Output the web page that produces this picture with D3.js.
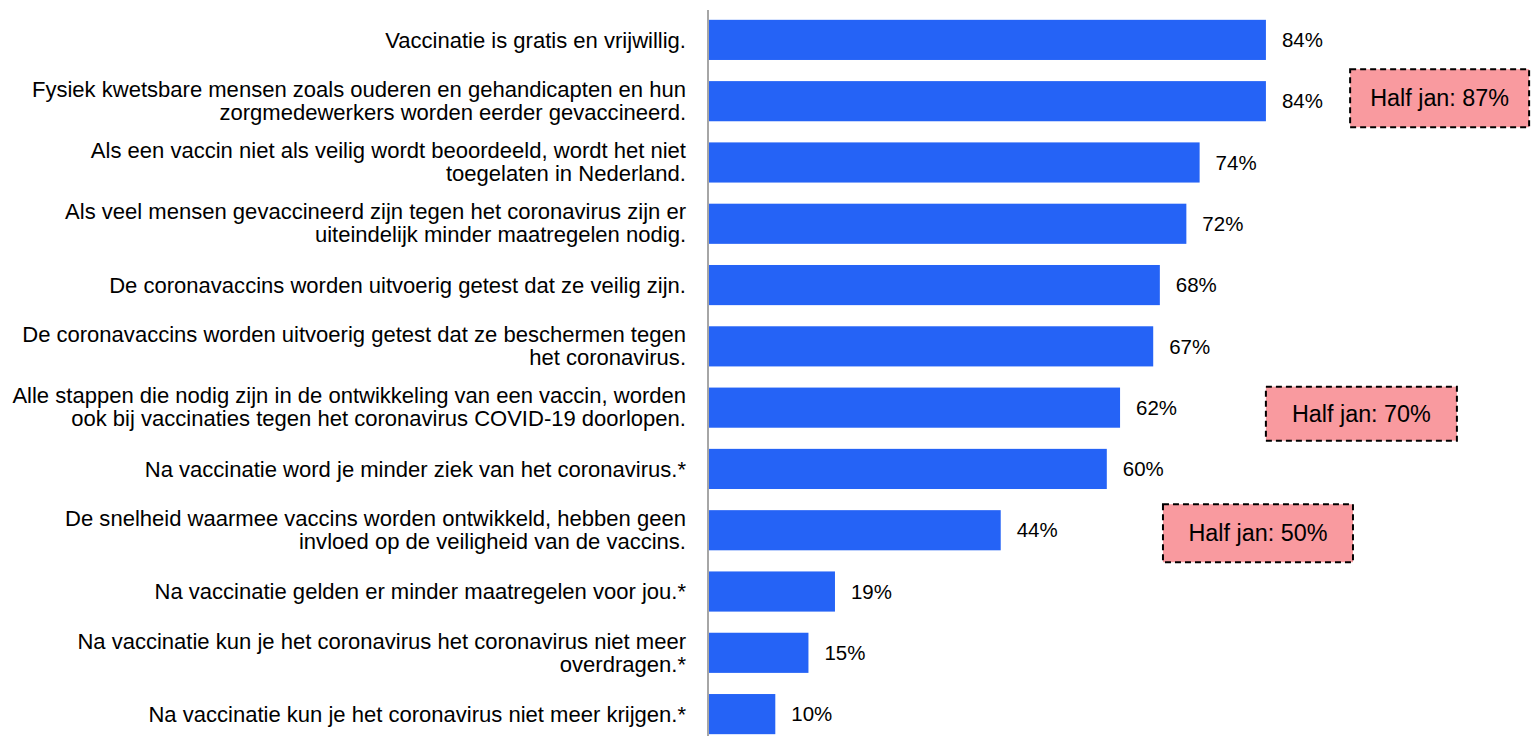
<!DOCTYPE html>
<html><head><meta charset="utf-8">
<script src="https://cdn.jsdelivr.net/npm/d3@7"></script>
<style>html,body{margin:0;padding:0;background:#fff;overflow:hidden}</style>
</head><body>
<svg id="c" width="1531" height="736"></svg>
<script>
const categories = [
  ["Vaccinatie is gratis en vrijwillig."],
  ["Fysiek kwetsbare mensen zoals ouderen en gehandicapten en hun", "zorgmedewerkers worden eerder gevaccineerd."],
  ["Als een vaccin niet als veilig wordt beoordeeld, wordt het niet", "toegelaten in Nederland."],
  ["Als veel mensen gevaccineerd zijn tegen het coronavirus zijn er", "uiteindelijk minder maatregelen nodig."],
  ["De coronavaccins worden uitvoerig getest dat ze veilig zijn."],
  ["De coronavaccins worden uitvoerig getest dat ze beschermen tegen", "het coronavirus."],
  ["Alle stappen die nodig zijn in de ontwikkeling van een vaccin, worden", "ook bij vaccinaties tegen het coronavirus COVID-19 doorlopen."],
  ["Na vaccinatie word je minder ziek van het coronavirus.*"],
  ["De snelheid waarmee vaccins worden ontwikkeld, hebben geen", "invloed op de veiligheid van de vaccins."],
  ["Na vaccinatie gelden er minder maatregelen voor jou.*"],
  ["Na vaccinatie kun je het coronavirus het coronavirus niet meer", "overdragen.*"],
  ["Na vaccinatie kun je het coronavirus niet meer krijgen.*"]
];
const values = [84, 84, 74, 72, 68, 67, 62, 60, 44, 19, 15, 10];
const annotRows = [1, 6, 8];
const annotTexts = ["Half jan: 87%", "Half jan: 70%", "Half jan: 50%"];

const svg = d3.select("#c");
const font = "'Liberation Sans', Arial, sans-serif";

// fit font sizes to reference text widths
function fitSize(str, target) {
  const t = svg.append("text").attr("font-family", font).attr("font-size", 20).text(str);
  const w = t.node().getComputedTextLength();
  t.remove();
  return 20 * target / w;
}
const catSize = fitSize("Alle stappen die nodig zijn in de ontwikkeling van een vaccin, worden", 674);
const valSize = fitSize("84%", 41);
const annSize = fitSize("Half jan: 87%", 139);

const x0 = 709;
const x = d3.scaleLinear().domain([0, 100]).range([x0, x0 + 663]);
const y = d3.scaleBand().domain(d3.range(categories.length)).range([9.4, 744.6]).paddingInner(0.345).paddingOuter(0.17);

// bars
svg.selectAll("rect.bar").data(values).join("rect")
  .attr("class", "bar")
  .attr("x", x(0)).attr("y", (d, i) => y(i))
  .attr("width", d => x(d) - x(0)).attr("height", y.bandwidth())
  .attr("fill", "#2563F6");

// axis line
svg.append("line").attr("x1", 708).attr("x2", 708).attr("y1", 10).attr("y2", 736)
  .attr("stroke", "#A6A6A6").attr("stroke-width", 2);

// value labels
svg.selectAll("text.val").data(values).join("text")
  .attr("class", "val")
  .attr("x", d => x(d) + 16).attr("y", (d, i) => y(i) + y.bandwidth() / 2)
  .attr("dy", "0.35em")
  .attr("font-family", font).attr("font-size", valSize).attr("fill", "#000")
  .text(d => d + "%");

// category labels
const lab = svg.selectAll("text.cat").data(categories).join("text")
  .attr("class", "cat")
  .attr("text-anchor", "end")
  .attr("font-family", font).attr("font-size", catSize).attr("fill", "#000");
lab.each(function (lines, i) {
  const cy = y(i) + y.bandwidth() / 2;
  const lh = 23;
  const start = cy - (lines.length - 1) * lh / 2 - (lines.length > 1 ? 0.5 : 0);
  d3.select(this).selectAll("tspan").data(lines).join("tspan")
    .attr("x", 686).attr("y", (d, j) => start + j * lh).attr("dy", "0.35em")
    .text(d => d);
});

// annotations
const annotX = [110.2, 98.4, 82.8];
const annotW = [179, 191, 190];
const annotH = [58, 54, 58];
const annotDy = [-3, 6, 3];
annotRows.forEach((r, k) => {
  const cx = x(annotX[k]);
  const cy = y(r) + y.bandwidth() / 2 + annotDy[k];
  svg.append("rect")
    .attr("x", cx - annotW[k] / 2).attr("y", cy - annotH[k] / 2)
    .attr("width", annotW[k]).attr("height", annotH[k])
    .attr("fill", "#F99A9F").attr("stroke", "#000").attr("stroke-width", 2)
    .attr("stroke-dasharray", "6,4");
  svg.append("text").attr("x", cx).attr("y", cy).attr("dy", "0.35em")
    .attr("text-anchor", "middle")
    .attr("font-family", font).attr("font-size", annSize).attr("fill", "#000")
    .text(annotTexts[k]);
});
</script>
</body></html>
